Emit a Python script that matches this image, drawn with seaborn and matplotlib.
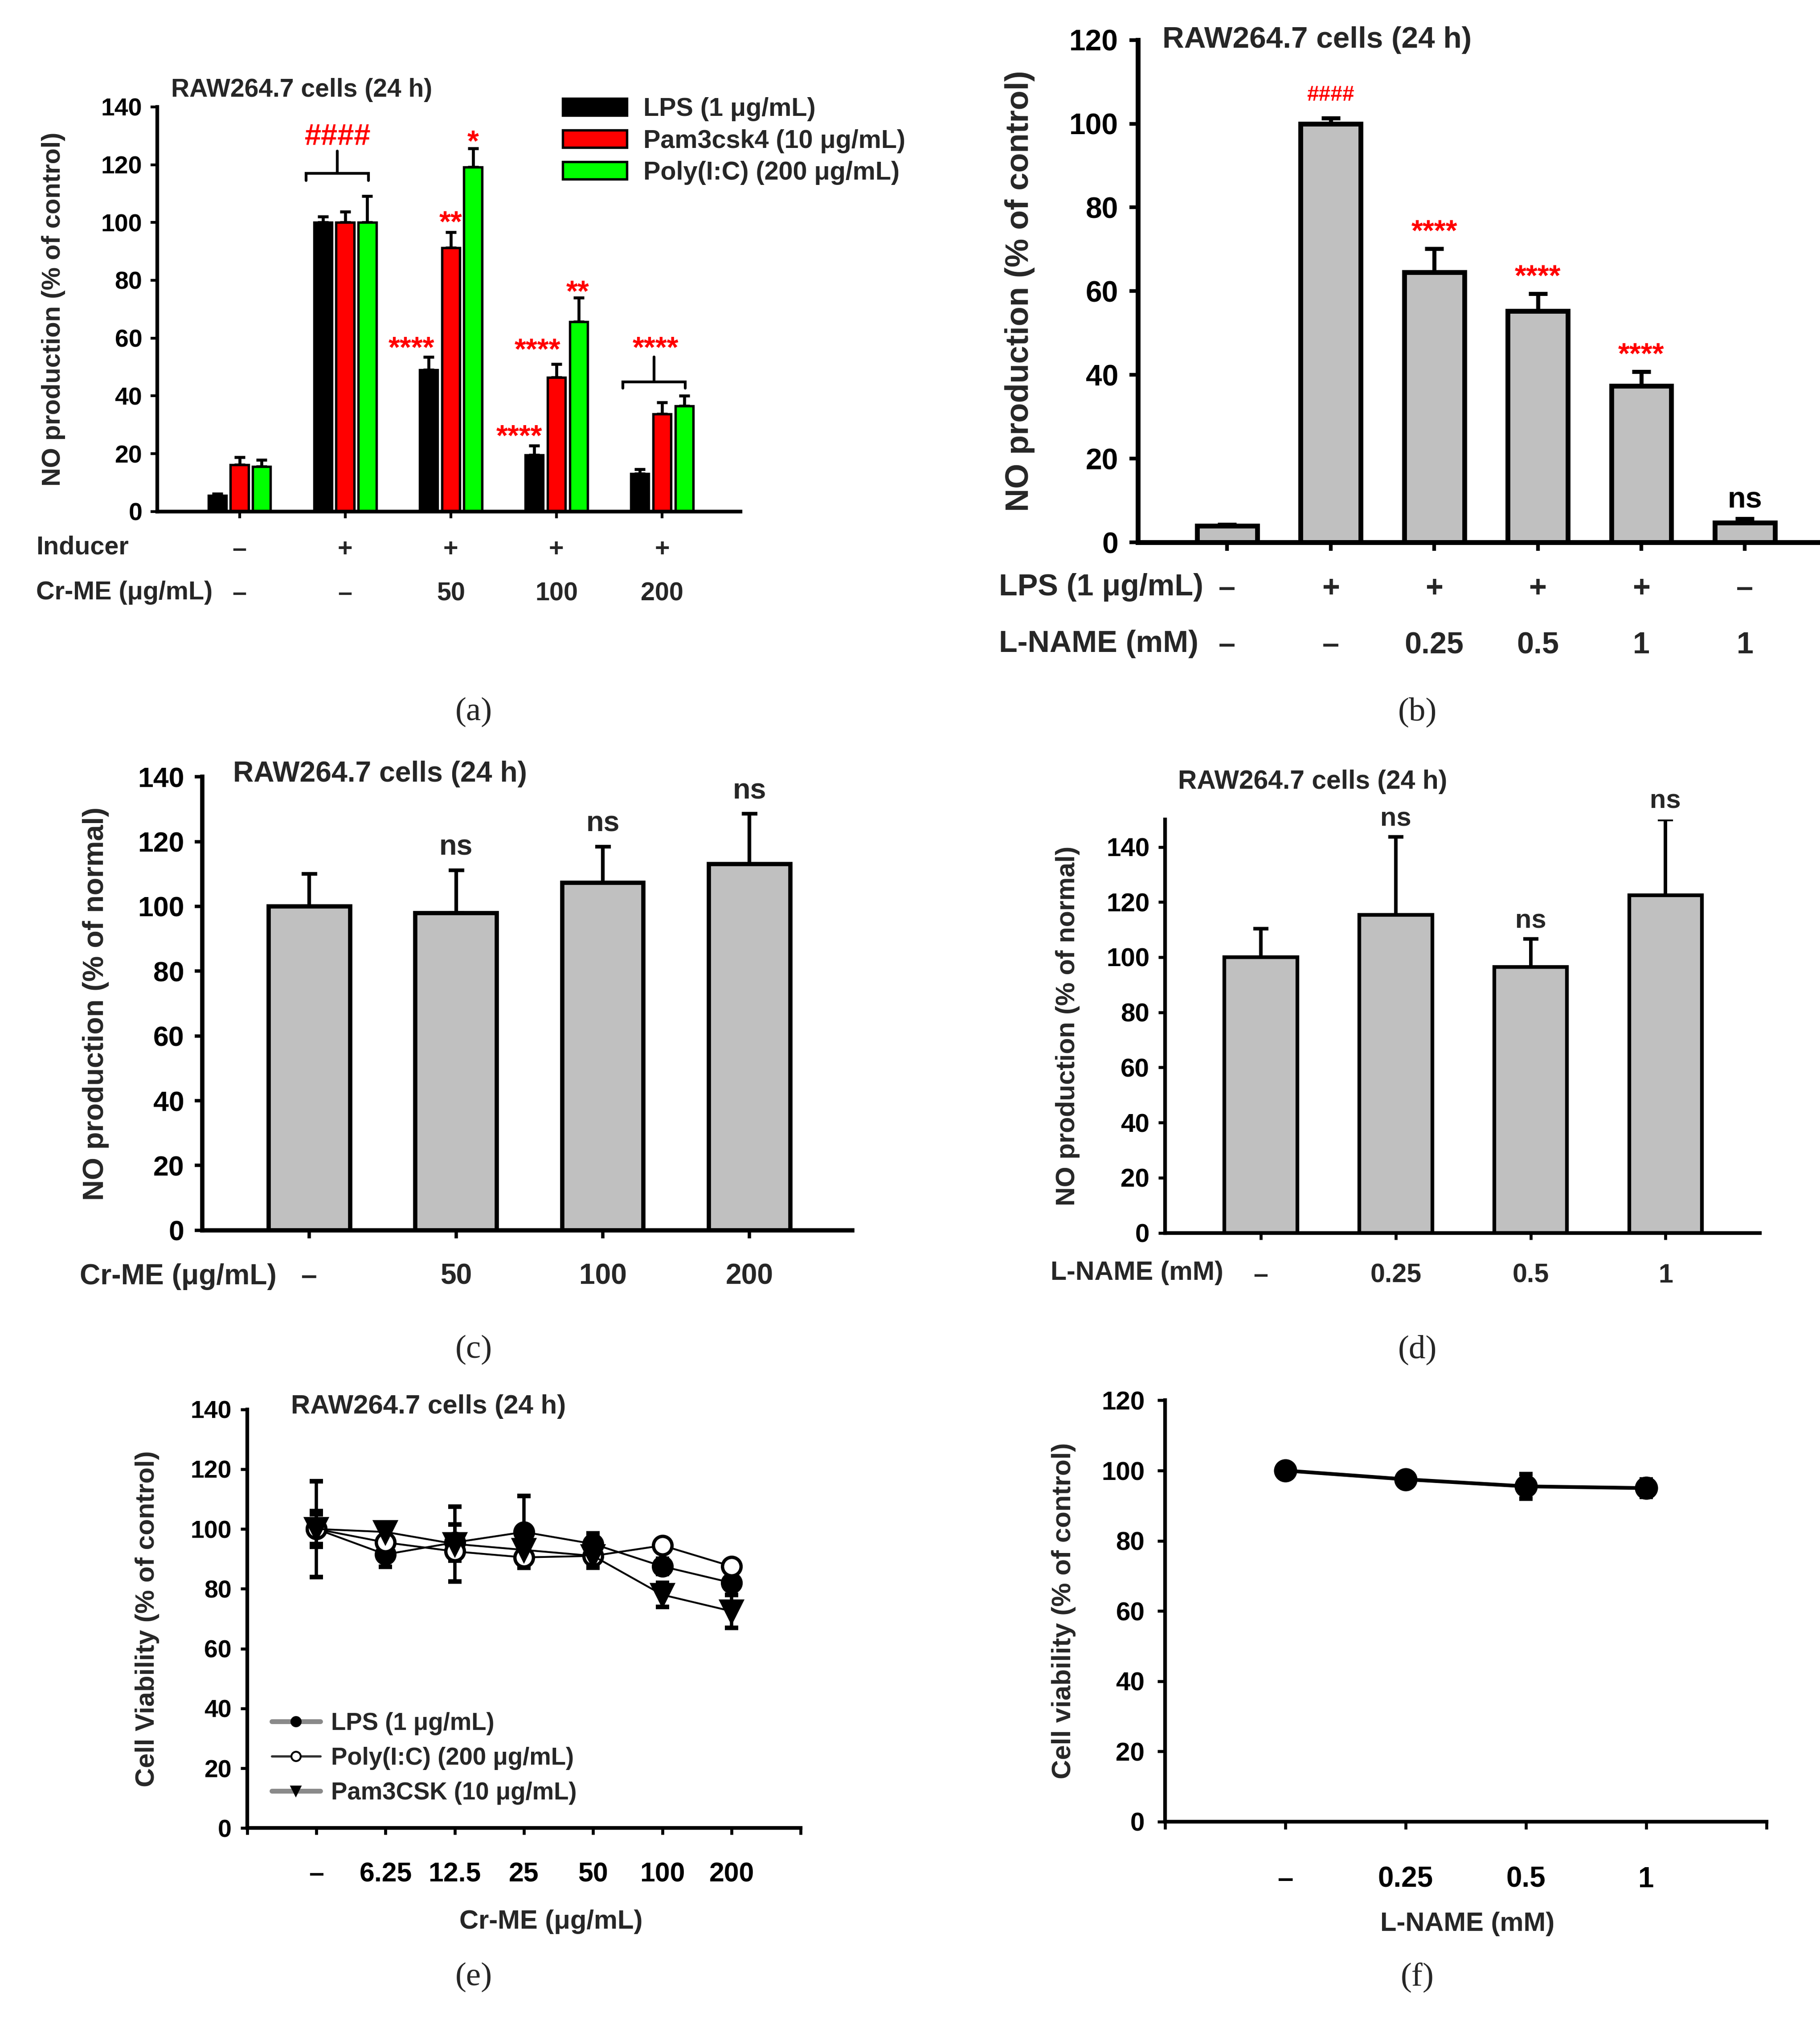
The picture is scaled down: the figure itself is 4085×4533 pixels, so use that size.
import numpy as np
import pandas as pd
import matplotlib
matplotlib.use("Agg")
import matplotlib.pyplot as plt
import seaborn as sns
from matplotlib import transforms
from matplotlib.patches import Patch
from matplotlib.lines import Line2D

# ---------------- data ----------------
# (a)
a_groups = ['–/–', '+/–', '+/50', '+/100', '+/200']
a_inducer_row = ['–', '+', '+', '+', '+']
a_crme_row = ['–', '–', '50', '100', '200']
a_series = ['LPS (1 μg/mL)', 'Pam3csk4 (10 μg/mL)', 'Poly(I:C) (200 μg/mL)']
a_lps = [5.5, 100, 49, 19.5, 13]
a_lps_err = [0.7, 2, 4.4, 3.3, 1.6]
a_pam = [16.2, 100, 91.2, 46.3, 33.8]
a_pam_err = [2.6, 3.7, 5.5, 4.7, 4.0]
a_poly = [15.5, 100, 119.2, 65.6, 36.5]
a_poly_err = [2.4, 9.2, 6.4, 8.4, 3.5]

# (b)
b_lps_row = ['–', '+', '+', '+', '+', '–']
b_lname_row = ['–', '–', '0.25', '0.5', '1', '1']
b_vals = [3.9, 100, 64.5, 55.3, 37.4, 4.7]
b_err = [0.4, 1.3, 5.7, 4.1, 3.4, 0.9]
b_marks = ['', '####', '****', '****', '****', 'ns']

# (c)
c_doses = ['–', '50', '100', '200']
c_vals = [100, 98, 107.3, 113]
c_err = [10, 13.2, 11.2, 15.6]
c_marks = ['', 'ns', 'ns', 'ns']

# (d)
d_doses = ['–', '0.25', '0.5', '1']
d_vals = [100, 115.4, 96.5, 122.5]
d_err = [10.3, 28.2, 10.1, 27.5]
d_marks = ['', 'ns', 'ns', 'ns']

# (e)
e_doses = ['–', '6.25', '12.5', '25', '50', '100', '200']
e_series = ['LPS (1 μg/mL)', 'Poly(I:C) (200 μg/mL)', 'Pam3CSK (10 μg/mL)']
e_lps = [100, 91.5, 95.5, 99, 95, 87.5, 82]
e_lps_err = [6, 4.2, 6, 12, 3.5, 2.5, 4]
e_poly = [100, 95.5, 92.5, 90.5, 91, 94.5, 87.5]
e_poly_err = [16, 2, 2.5, 3.5, 3, 1.5, 2]
e_pam = [100, 99, 95, 93, 91, 78, 72.5]
e_pam_err = [5, 1.5, 12.5, 2, 4, 4, 5.5]

# (f)
f_doses = ['–', '0.25', '0.5', '1']
f_vals = [100, 97.5, 95.5, 95]
f_err = [1, 1.5, 3.5, 2.5]

# ---------------- style ----------------
sns.set_style('ticks')
plt.rcParams['font.family'] = ['Liberation Sans', 'DejaVu Sans']
plt.rcParams['font.weight'] = 'bold'
plt.rcParams['axes.labelweight'] = 'bold'
plt.rcParams['axes.edgecolor'] = 'black'
plt.rcParams['xtick.color'] = 'black'
plt.rcParams['ytick.color'] = 'black'

W, H = 1414.0, 1568.0
fig = plt.figure(figsize=(4086 / 300, 4533 / 300), dpi=300, facecolor='white')


def fx(x):
    return x / W


def fy(y):
    return 1 - y / H


def add_ax(l, t, r, b):
    return fig.add_axes([fx(l), fy(b), fx(r) - fx(l), fy(t) - fy(b)])


def style_ax(ax, spine_lw, tick_len, tick_w, ylab_size, pad):
    sns.despine(ax=ax)
    for s in ['left', 'bottom']:
        ax.spines[s].set_linewidth(spine_lw)
        ax.spines[s].set_color('black')
    ax.tick_params(axis='both', direction='out', length=tick_len, width=tick_w,
                   labelsize=ylab_size, pad=pad, colors='black')
    ax.set_facecolor('white')
    ax.grid(False)


def caption(x, y, s):
    fig.text(fx(x), fy(y), s, family=['Liberation Serif', 'DejaVu Serif'],
             weight='normal', fontsize=18, ha='center', va='center')


def upper_err(ax, bars, errs, lw, cap):
    xs = [b.get_x() + b.get_width() / 2 for b in bars]
    hs = [b.get_height() for b in bars]
    ax.errorbar(xs, hs, yerr=[np.zeros(len(errs)), errs], fmt='none',
                ecolor='black', elinewidth=lw, capsize=cap, capthick=lw, zorder=0.5)
    return xs, hs


# ================= (a) =================
axA = add_ax(122, 83, 575, 397)
df_a = pd.DataFrame({
    'group': a_groups * 3,
    'inducer': sum([[s] * len(a_groups) for s in a_series], []),
    'value': a_lps + a_pam + a_poly,
})
sns.barplot(data=df_a, x='group', y='value', hue='inducer', order=a_groups,
            hue_order=a_series, palette=['#000000', '#ff0000', '#00ff00'],
            edgecolor='black', linewidth=1.3, width=0.63, gap=0.19,
            errorbar=None, legend=False, saturation=1, ax=axA)
for cont, errs in zip(axA.containers, [a_lps_err, a_pam_err, a_poly_err]):
    upper_err(axA, list(cont), errs, 1.6, 2.8)
a_centers = [b.get_x() + b.get_width() / 2 for b in axA.containers[1]]
axA.set_xlim(-0.78, 4.74)
axA.set_ylim(0, 140)
axA.set_yticks(range(0, 141, 20))
axA.set_xticks(a_centers)
axA.set_xticklabels([])
axA.set_xlabel('')
axA.set_ylabel('NO production (% of control)', fontsize=13.9)
axA.yaxis.set_label_coords(-0.157, 0.5)
style_ax(axA, 2.0, 3.5, 1.5, 13.3, 4.5)

# brackets
for gi, ybar, yend, ytop in [(1, 117, 114.5, 124.7), (4, 44.8, 42.7, 53.4)]:
    c = a_centers[gi]
    x0, x1 = c - 0.37, c + 0.22
    axA.plot([x0, x0, x1, x1], [yend, ybar, ybar, yend], color='black', lw=1.5,
             solid_joinstyle='miter')
    axA.plot([(x0 + x1) / 2] * 2, [ybar, ytop], color='black', lw=1.5)

a_annots = [(1, -0.07, 129.5, '####'), (2, -0.37, 56, '****'), (2, 0.0, 99.5, '**'),
            (2, 0.21, 127.5, '*'), (3, -0.35, 25.5, '****'), (3, -0.18, 55.5, '****'),
            (3, 0.20, 75.5, '**'), (4, -0.06, 56, '****')]
for gi, dx, y, s in a_annots:
    axA.text(a_centers[gi] + dx, y, s, color='#ff0000', fontsize=16, ha='center',
             va='center')

fig.text(fx(133), fy(70), 'RAW264.7 cells (24 h)', fontsize=13.7, ha='left', va='center')
handles = [Patch(facecolor=c, edgecolor='black', linewidth=1.3)
           for c in ['#000000', '#ff0000', '#00ff00']]
fig.legend(handles, a_series, loc='upper left', bbox_to_anchor=(fx(437), fy(75.5)),
           frameon=False, fontsize=13.8, handlelength=2.5, handleheight=0.65,
           handletextpad=0.65, labelspacing=0.3, borderpad=0, borderaxespad=0)

transA = transforms.blended_transform_factory(axA.transData, fig.transFigure)
fig.text(fx(28), fy(425), 'Inducer', fontsize=13.8, ha='left', va='center')
fig.text(fx(28), fy(460), 'Cr-ME (μg/mL)', fontsize=13.8, ha='left', va='center')
for c, s1, s2 in zip(a_centers, a_inducer_row, a_crme_row):
    axA.text(c, fy(427), s1, transform=transA, fontsize=13.8, ha='center', va='center')
    axA.text(c, fy(461), s2, transform=transA, fontsize=13.8, ha='center', va='center')
caption(368, 553, '(a)')

# ================= (b) =================
axB = add_ax(884, 31, 1414, 421)
b_cats = [f'{l}/{n}' for l, n in zip(b_lps_row, b_lname_row)]
sns.barplot(x=b_cats, y=b_vals, order=b_cats, color='#c0c0c0', edgecolor='black',
            linewidth=2.6, width=0.58, saturation=1, errorbar=None, ax=axB)
b_x, b_h = upper_err(axB, list(axB.containers[0]), b_err, 2.2, 5)
axB.set_xlim(-0.86, 5.73)
axB.set_ylim(0, 120)
axB.set_yticks(range(0, 121, 20))
axB.set_xticks(b_x)
axB.set_xticklabels([])
axB.set_ylabel('NO production (% of control)', fontsize=17.3)
axB.yaxis.set_label_coords(-0.151, 0.5)
style_ax(axB, 2.6, 4.5, 2.0, 15.8, 6.2)
for x, h, e, s in zip(b_x, b_h, b_err, b_marks):
    if not s:
        continue
    if s == 'ns':
        axB.text(x, h + e + 4.5, s, color='black', fontsize=16, ha='center', va='center')
    elif s.startswith('#'):
        axB.text(x, h + e + 5.5, s, color='#ff0000', fontsize=11.5, ha='center', va='center')
    else:
        axB.text(x, h + e + 3.8, s, color='#ff0000', fontsize=16, ha='center', va='center')
fig.text(fx(903), fy(31), 'RAW264.7 cells (24 h)', fontsize=16.2, ha='left', va='center')
transB = transforms.blended_transform_factory(axB.transData, fig.transFigure)
fig.text(fx(776), fy(456), 'LPS (1 μg/mL)', fontsize=16.4, ha='left', va='center')
fig.text(fx(776), fy(500), 'L-NAME (mM)', fontsize=16.4, ha='left', va='center')
for x, s1, s2 in zip(b_x, b_lps_row, b_lname_row):
    axB.text(x, fy(457), s1, transform=transB, fontsize=16.4, ha='center', va='center')
    axB.text(x, fy(501), s2, transform=transB, fontsize=16.4, ha='center', va='center')
caption(1101, 553, '(b)')

# ================= (c) =================
axC = add_ax(157, 603, 662, 955)
sns.barplot(x=c_doses, y=c_vals, order=c_doses, color='#c0c0c0', edgecolor='black',
            linewidth=2.3, width=0.555, saturation=1, errorbar=None, ax=axC)
c_x, c_h = upper_err(axC, list(axC.containers[0]), c_err, 2.0, 4.2)
axC.set_xlim(-0.73, 3.70)
axC.set_ylim(0, 140)
axC.set_yticks(range(0, 141, 20))
axC.set_xticks(c_x)
axC.set_xticklabels([])
axC.set_ylabel('NO production (% of normal)', fontsize=15.5)
axC.yaxis.set_label_coords(-0.143, 0.5)
style_ax(axC, 2.3, 4.2, 1.8, 15, 5.5)
for x, h, e, s in zip(c_x, c_h, c_err, c_marks):
    if s:
        axC.text(x, h + e + 7, s, fontsize=15.5, ha='center', va='center')
fig.text(fx(181), fy(601), 'RAW264.7 cells (24 h)', fontsize=15.4, ha='left', va='center')
transC = transforms.blended_transform_factory(axC.transData, fig.transFigure)
fig.text(fx(62), fy(991), 'Cr-ME (μg/mL)', fontsize=15.4, ha='left', va='center')
for x, s in zip(c_x, c_doses):
    axC.text(x, fy(991), s, transform=transC, fontsize=15.4, ha='center', va='center')
caption(368, 1048, '(c)')

# ================= (d) =================
axD = add_ax(905, 636, 1367, 957)
sns.barplot(x=d_doses, y=d_vals, order=d_doses, color='#c0c0c0', edgecolor='black',
            linewidth=2.0, width=0.54, saturation=1, errorbar=None, ax=axD)
d_x, d_h = upper_err(axD, list(axD.containers[0]), d_err, 1.9, 4.0)
axD.set_xlim(-0.71, 3.70)
axD.set_ylim(0, 150)
axD.set_yticks(range(0, 141, 20))
axD.set_xticks(d_x)
axD.set_xticklabels([])
axD.set_ylabel('NO production (% of normal)', fontsize=14.2)
axD.yaxis.set_label_coords(-0.143, 0.5)
style_ax(axD, 2.0, 3.6, 1.6, 14, 4.8)
for x, h, e, s in zip(d_x, d_h, d_err, d_marks):
    if s:
        axD.text(x, h + e + 6.5, s, fontsize=14.3, ha='center', va='center')
fig.text(fx(915), fy(607), 'RAW264.7 cells (24 h)', fontsize=14.1, ha='left', va='center')
transD = transforms.blended_transform_factory(axD.transData, fig.transFigure)
fig.text(fx(816), fy(988), 'L-NAME (mM)', fontsize=14.2, ha='left', va='center')
for x, s in zip(d_x, d_doses):
    axD.text(x, fy(990), s, transform=transD, fontsize=14.2, ha='center', va='center')
caption(1101, 1048, '(d)')

# ================= (e) =================
axE = add_ax(192, 1094, 622, 1419)
e_specs = [(e_lps, e_lps_err, 'o', 'black', 10),
           (e_poly, e_poly_err, 'o', 'white', 10),
           (e_pam, e_pam_err, 'v', 'black', 11)]
for vals, errs, mk, mfc, ms in e_specs:
    n0 = len(axE.lines)
    sns.pointplot(x=e_doses, y=vals, order=e_doses, color='black', markers=mk,
                  linestyles='-', errorbar=None, ax=axE, markersize=ms, linewidth=1.0)
    ln = axE.lines[n0]
    ln.set_markerfacecolor(mfc)
    ln.set_markeredgecolor('black')
    ln.set_markeredgewidth(1.8)
    ln.set_zorder(3)
    axE.errorbar(ln.get_xdata(), vals, yerr=errs, fmt='none', ecolor='black',
                 elinewidth=1.8, capsize=3.5, capthick=2.5, zorder=2)
axE.set_xlim(-1, len(e_doses))
axE.set_ylim(0, 140)
axE.set_yticks(range(0, 141, 20))
axE.set_xticks(range(-1, len(e_doses) + 1))
axE.set_xticklabels([''] + e_doses + [''])
style_ax(axE, 2.0, 3.6, 1.6, 13.3, 4.8)
axE.tick_params(axis='x', labelsize=14.6, pad=14.6)
axE.set_ylabel('Cell Viability (% of control)', fontsize=14.3)
axE.yaxis.set_label_coords(-0.158, 0.5)
axE.set_xlabel('Cr-ME (μg/mL)', fontsize=14.3)
axE.xaxis.set_label_coords(0.549, -0.194)
fig.text(fx(226), fy(1092), 'RAW264.7 cells (24 h)', fontsize=14.4, ha='left', va='center')
leg_handles = [
    Line2D([0], [0], color='#8a8a8a', lw=2.6, marker='o', ms=5, mfc='black', mec='black'),
    Line2D([0], [0], color='#333333', lw=1.2, marker='o', ms=5, mfc='white', mec='black'),
    Line2D([0], [0], color='#8a8a8a', lw=2.6, marker='v', ms=5, mfc='black', mec='black'),
]
axE.legend(leg_handles, e_series, loc='upper left', bbox_to_anchor=(fx(211), fy(1329)),
           bbox_transform=fig.transFigure, frameon=False, fontsize=13.1,
           handlelength=2.0, handletextpad=0.45, labelspacing=0.48, borderpad=0,
           borderaxespad=0)
caption(368, 1535, '(e)')

# ================= (f) =================
axF = add_ax(905, 1087, 1372, 1414)
n0 = len(axF.lines)
sns.pointplot(x=f_doses, y=f_vals, order=f_doses, color='black', markers='o',
              linestyles='-', errorbar=None, ax=axF, markersize=11, linewidth=2.0)
lnF = axF.lines[n0]
lnF.set_zorder(3)
axF.errorbar(lnF.get_xdata(), f_vals, yerr=f_err, fmt='none', ecolor='black',
             elinewidth=2.0, capsize=3.5, capthick=2.5, zorder=2)
axF.set_xlim(-1, len(f_doses))
axF.set_ylim(0, 120)
axF.set_yticks(range(0, 121, 20))
axF.set_xticks(range(-1, len(f_doses) + 1))
axF.set_xticklabels([''] + f_doses + [''])
style_ax(axF, 2.0, 4.0, 1.6, 14, 7)
axF.tick_params(axis='x', labelsize=15.3, pad=20)
axF.set_ylabel('Cell viability (% of control)', fontsize=14.4)
axF.yaxis.set_label_coords(-0.148, 0.5)
axF.set_xlabel('L-NAME (mM)', fontsize=14.3)
axF.xaxis.set_label_coords(0.503, -0.214)
caption(1101, 1535, '(f)')

fig.savefig('out.png', dpi=300, facecolor='white')
